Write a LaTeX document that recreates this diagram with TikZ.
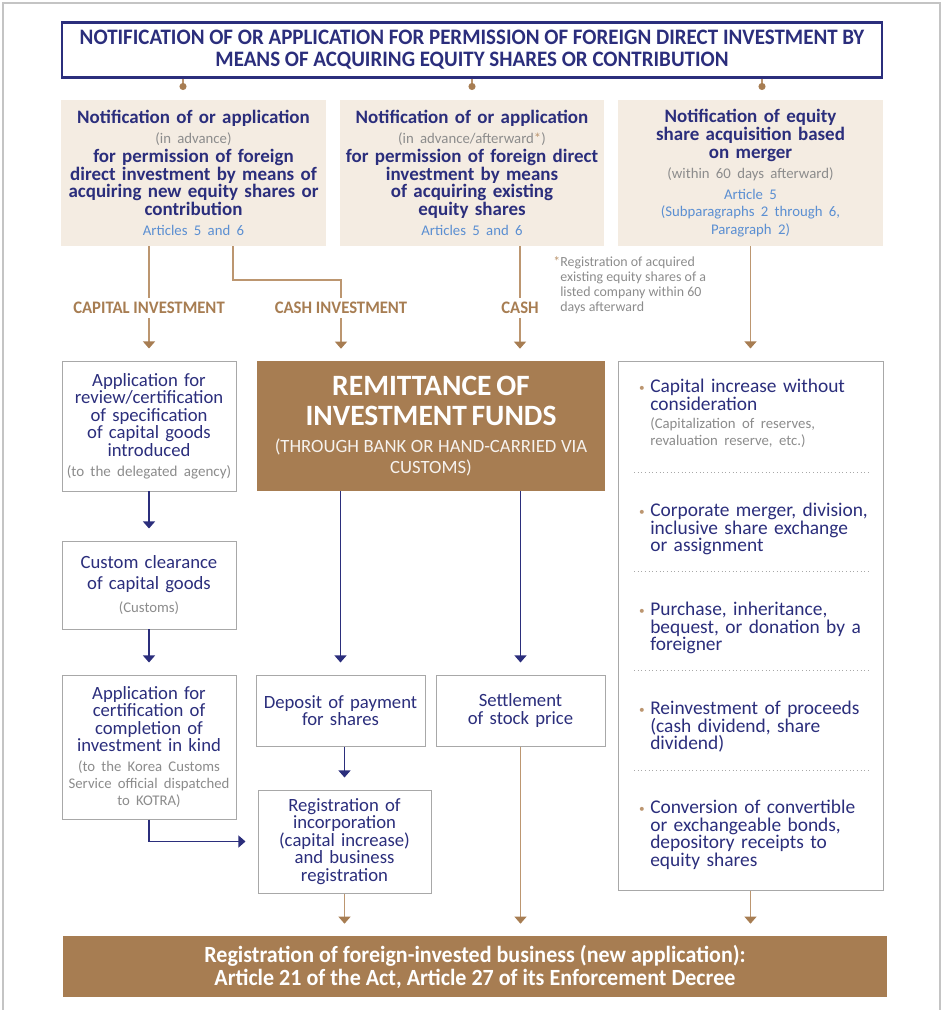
\documentclass[tikz,border=0pt]{standalone}
\usepackage{fontspec}
\setmainfont{Carlito}
\newfontfamily\condfont[FakeStretch=0.95]{Carlito}
\usetikzlibrary{arrows.meta,positioning}
\setlength\parindent{0pt}

\definecolor{navy}{HTML}{2B2E7C}
\definecolor{brownbox}{HTML}{A77D52}
\definecolor{tanline}{HTML}{BC9670}
\definecolor{beige}{HTML}{F4ECE2}
\definecolor{artblue}{HTML}{5B8FD2}
\definecolor{graytxt}{HTML}{8C8C8C}
\definecolor{boxgray}{HTML}{A8A8A8}
\definecolor{framegray}{HTML}{C4C4C4}

\newcommand{\fs}[2]{\fontsize{#1}{#2}\selectfont}
\newcommand{\bul}{\leavevmode\llap{\raisebox{1pt}{\textcolor{tanline}{\fs{8}{8}\textbullet}}\hspace{4pt}}}

\begin{document}
\begin{tikzpicture}[x=0.25mm, y=-0.25mm,
  headbox/.style={draw=navy, line width=1.6pt, text=navy, align=center, inner sep=0pt, minimum width=205mm, minimum height=13.75mm, font=\condfont\bfseries\fs{15.7}{15.6}},
  notebox/.style={fill=beige, text=navy, align=center, inner sep=0pt, text width=66.25mm, minimum height=36.5mm, font=\fs{13.5}{12.6}},
  plainbox/.style={draw=boxgray, line width=0.7pt, fill=white, text=navy, align=center, inner sep=0pt, font=\fs{13.3}{12.4}},
  fundbox/.style={fill=brownbox, text=white, align=center, inner sep=0pt},
  flowlbl/.style={text=brownbox, font=\condfont\bfseries\fs{12.5}{12}, inner sep=3pt},
  tanln/.style={draw=tanline, line width=0.8pt},
  tanarr/.style={tanln, -{Triangle[width=8.5pt,length=5pt,color=brownbox]}, shorten >=3mm},
  navyarr/.style={draw=navy, line width=0.8pt, -{Triangle[width=8.5pt,length=5pt]}, shorten >=3mm},
  item/.style={anchor=north west, align=left, inner sep=0pt, text width=57mm, text=navy, font=\fs{13.8}{12.5}},
  sepline/.style={draw=boxgray, dotted, line width=0.6pt}
]
\useasboundingbox (0,0) rectangle (944,1010);
\draw[framegray, line width=1.2pt] (3,1010) -- (3,3) -- (940,3) -- (940,1010);

% Title
\node[headbox] (head) at (472,50) {NOTIFICATION OF OR APPLICATION FOR PERMISSION OF FOREIGN DIRECT INVESTMENT BY\\ MEANS OF ACQUIRING EQUITY SHARES OR CONTRIBUTION};

% Three kinds of notification
\node[notebox] (newnote) at (193.5,173) {{\bfseries Notification of or application\par}
  {\fs{10.5}{14}\textcolor{graytxt}{(in advance)}\par}\vspace{1pt}
  {\bfseries for permission of foreign\\ direct investment by means of\\ acquiring new equity shares or\\ contribution\par}
  {\fs{10.5}{14.2}\textcolor{artblue}{Articles 5 and 6}\par}};
\node[notebox, text width=66mm] (oldnote) at (472,173) {{\bfseries Notification of or application\par}
  {\fs{10.5}{14}\textcolor{graytxt}{(in advance/afterward\textcolor{tanline}{*})}\par}\vspace{1pt}
  {\bfseries for permission of foreign direct\\ investment by means\\ of acquiring existing\\ equity shares\par}
  {\fs{10.5}{14.2}\textcolor{artblue}{Articles 5 and 6}\par}};
\node[notebox] (mergenote) at (750.5,173) {{\bfseries Notification of equity\\ share acquisition based\\ on merger\par}
  {\fs{10.5}{14.2}\textcolor{graytxt}{(within 60 days afterward)}\par}\vspace{2.5pt}
  {\fs{10.5}{12.4}\textcolor{artblue}{Article 5\\ (Subparagraphs 2 through 6,\\ Paragraph 2)}\par}};

\coordinate (d1) at (183,90);
\coordinate (d2) at (472,90);
\coordinate (d3) at (762,90);
\foreach \d in {d1,d2,d3} \draw[tanln, -{Circle[length=5pt,color=brownbox]}] (head.south -| \d) -- (\d);

\node[anchor=north west, align=left, inner sep=0pt, text=graytxt, font=\fs{9.9}{10.8}] (fnote) at (560,256)
  {\llap{\textcolor{tanline}{*}}Registration of acquired\\ existing equity shares of a\\ listed company within 60\\ days afterward};

% Kinds of investment
\node[flowlbl] (capinv) at (149,308) {CAPITAL INVESTMENT};
\node[flowlbl] (cashinv) at (341,308) {CASH INVESTMENT};
\node[flowlbl] (cashonly) at (520,308) {CASH};
\coordinate (bend) at (233,280);

% Second row
\node[plainbox, text width=43.5mm, minimum height=32.5mm] (review) at (149,426) {Application for\\ review/certification\\ of specification\\ of capital goods\\ introduced\par
  {\fs{10.7}{14.2}\textcolor{graytxt}{(to the delegated agency)}\par}};
\node[fundbox, text width=87mm, minimum height=32.5mm] (remit) at (431,426) {{\bfseries\fs{21}{22}REMITTANCE OF\\ INVESTMENT FUNDS\par}\vspace{4pt}
  {\fs{13.3}{15}\textcolor{white!90!brownbox}{(THROUGH BANK OR HAND-CARRIED VIA\\ CUSTOMS)}\par}};
\node[plainbox, minimum width=66.25mm, minimum height=132.25mm] (cases) at (750.5,625.5) {};

% Cases without cash
\node[item] (case1) at (650,379) {\bul Capital increase without\\ consideration\par
  {\fs{10.5}{12.6}\textcolor{graytxt}{(Capitalization of reserves,\\ revaluation reserve, etc.)}\par}};
\node[item] (case2) at (650,503) {\bul Corporate merger, division,\\ inclusive share exchange\\ or assignment};
\node[item] (case3) at (650,602) {\bul Purchase, inheritance,\\ bequest, or donation by a\\ foreigner};
\node[item] (case4) at (650,701) {\bul Reinvestment of proceeds\\ (cash dividend, share\\ dividend)};
\node[item] (case5) at (650,800) {\bul Conversion of convertible\\ or exchangeable bonds,\\ depository receipts to\\ equity shares};
\foreach \y in {472,571,670,770} \draw[sepline] (634,\y) -- (868,\y);

% Lower steps
\node[plainbox, text width=43.5mm, minimum height=22mm] (clearance) at (149,585) {{\fs{13.3}{15.6}Custom clearance\\ of capital goods\par}
  {\fs{10.5}{16.3}\textcolor{graytxt}{(Customs)}\par}};
\node[plainbox, text width=43.5mm, minimum height=36mm] (kindcert) at (149,747) {Application for\\ certification of\\ completion of\\ investment in kind\par
  {\fs{10.5}{14.2}\textcolor{graytxt}{(to the Korea Customs}\par}
  {\fs{10.5}{12}\textcolor{graytxt}{Service official dispatched\\ to KOTRA)}\par}};
\node[plainbox, text width=42.25mm, minimum height=17.75mm] (deposit) at (340.5,710.5) {Deposit of payment\\ for shares};
\node[plainbox, text width=42.25mm, minimum height=17.75mm] (settle) at (520.5,710.5) {Settlement\\ of stock price};
\node[plainbox, text width=43.25mm, minimum height=25.75mm] (incorp) at (344.5,841.5) {Registration of\\ incorporation\\ (capital increase)\\ and business\\ registration};

% Registration
\node[fundbox, minimum width=206mm, minimum height=15.25mm, font=\condfont\bfseries\fs{16.5}{16.3}] (final) at (475,966.5)
  {Registration of foreign-invested business (new application):\\ Article 21 of the Act, Article 27 of its Enforcement Decree};

% Tan connectors
\draw[tanln] (newnote.south -| capinv) -- (capinv);
\draw[tanarr] (capinv) -- (review);
\draw[tanln] (newnote.south -| bend) -- (bend) -| (cashinv);
\draw[tanarr] (cashinv) -- (cashinv |- remit.north);
\draw[tanln] (oldnote.south -| cashonly) -- (cashonly);
\draw[tanarr] (cashonly) -- (cashonly |- remit.north);
\draw[tanarr] (mergenote) -- (cases);

% Navy arrows
\draw[navyarr] (review) -- (clearance);
\draw[navyarr] (clearance) -- (kindcert);
\draw[navyarr] (remit.south -| deposit) -- (deposit);
\draw[navyarr] (remit.south -| settle) -- (settle);
\draw[navyarr] (deposit.south -| incorp) -- (incorp);
\draw[navyarr] (kindcert) |- (incorp);

% Into registration
\draw[tanarr] (incorp) -- (incorp |- final.north);
\draw[tanarr] (settle) -- (settle |- final.north);
\draw[tanarr] (cases) -- (cases |- final.north);
\end{tikzpicture}
\end{document}
